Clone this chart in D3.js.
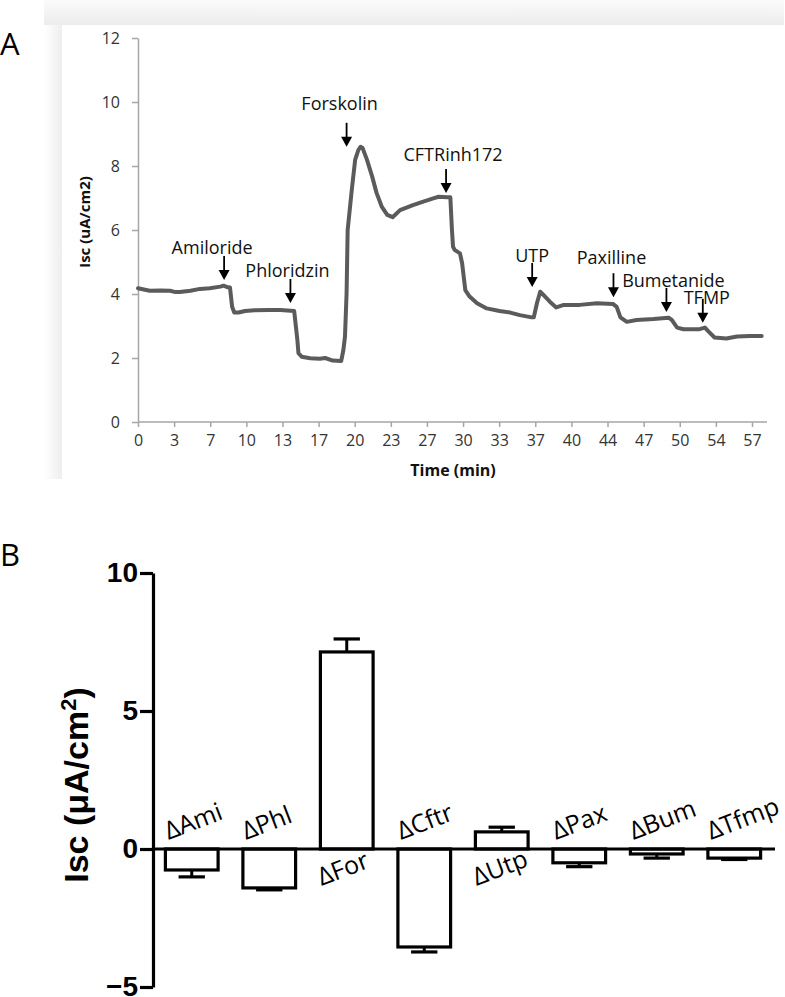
<!DOCTYPE html>
<html><head><meta charset="utf-8">
<script src="https://cdn.jsdelivr.net/npm/d3@7"></script>
<style>
html,body{margin:0;padding:0;background:#fff;}
svg{display:block;}
</style></head>
<body>
<svg id="chart" width="785" height="997"></svg>
<script>
// ---------- Panel A data ----------
const timeTickLabels = [0,3,7,10,13,17,20,23,27,30,33,37,40,44,47,50,54,57];
const yTicksA = [0,2,4,6,8,10,12];
const traceTime = [0,1.1,2.1,3.0,3.5,3.9,4.9,5.8,6.7,7.7,8.0,8.4,8.6,8.8,9.0,9.4,10.0,10.9,12.3,13.3,14.6,14.9,15.0,15.3,16.1,17.0,17.5,18.2,19.0,19.2,19.35,19.5,19.6,20.0,20.3,20.6,20.8,21.0,21.4,21.9,22.3,22.8,23.3,23.8,24.5,25.7,26.6,27.6,28.1,28.9,29.2,29.35,29.45,29.6,30.1,30.3,30.6,31.0,31.7,32.6,33.8,34.8,35.7,36.8,37.0,37.3,37.6,37.9,38.5,39.1,39.8,41.3,42.9,44.4,44.75,45.1,45.7,46.6,48.2,49.6,49.9,50.4,51.0,52.5,53.0,53.3,53.9,55.0,56.0,57.2,58.3];
const traceIsc  = [4.18,4.10,4.11,4.10,4.06,4.06,4.10,4.16,4.18,4.23,4.26,4.21,4.20,3.60,3.42,3.42,3.47,3.49,3.50,3.50,3.47,2.56,2.15,2.04,1.99,1.98,2.00,1.92,1.91,2.25,2.67,4.03,6.00,7.30,8.19,8.50,8.60,8.56,8.20,7.66,7.16,6.72,6.47,6.40,6.62,6.78,6.88,6.99,7.04,7.02,7.02,6.00,5.48,5.38,5.27,4.96,4.12,3.92,3.71,3.55,3.47,3.42,3.34,3.27,3.27,3.72,4.07,3.97,3.76,3.58,3.66,3.66,3.71,3.69,3.60,3.27,3.13,3.19,3.22,3.26,3.19,2.95,2.90,2.90,2.95,2.84,2.64,2.61,2.67,2.69,2.69];
const drugNames = ["Amiloride","Phloridzin","Forskolin","CFTRinh172","UTP","Paxilline","Bumetanide","TFMP"];
const drugTime  = [8.05,14.25,19.5,28.8,36.85,44.45,49.4,52.8];
const drugIsc   = [4.44,3.72,8.6,7.16,4.22,3.9,3.44,3.1];
// label placement (layout, px)
const drugLabelDx = [-12,-3,-7,7,0,-2,7,4];
const drugLabelDy = [-33,-33,-44,-39,-32,-40,-32,-26];

// ---------- Panel B data ----------
const barCategories = ["ΔAmi","ΔPhl","ΔFor","ΔCftr","ΔUtp","ΔPax","ΔBum","ΔTfmp"];
const barMeans  = [-0.76,-1.41,7.14,-3.55,0.62,-0.50,-0.18,-0.33];
const barErrors = [0.25,0.07,0.47,0.18,0.17,0.14,0.15,0.05];
const yTicksB = [-5,0,5,10];

const svg = d3.select("#chart");

// ---------- Panel A frame / shadow ----------
const defs = svg.append("defs");
const gTop = defs.append("linearGradient").attr("id","gTop").attr("x1",0).attr("y1",0).attr("x2",0).attr("y2",1);
gTop.append("stop").attr("offset","0%").attr("stop-color","#fbfbfb");
gTop.append("stop").attr("offset","100%").attr("stop-color","#ececec");
const gLeft = defs.append("linearGradient").attr("id","gLeft").attr("x1",0).attr("y1",0).attr("x2",1).attr("y2",0);
gLeft.append("stop").attr("offset","0%").attr("stop-color","#ffffff");
gLeft.append("stop").attr("offset","100%").attr("stop-color","#eeeeee");
svg.append("rect").attr("x",44).attr("y",0).attr("width",740).attr("height",25).attr("fill","url(#gTop)");
svg.append("rect").attr("x",44).attr("y",25).attr("width",18).attr("height",454).attr("fill","url(#gLeft)");
svg.append("rect").attr("x",62).attr("y",25).attr("width",723).attr("height",454).attr("fill","#fff");

// panel letters
svg.append("text").attr("x",0).attr("y",55).text("A")
  .style("font-family","'Open Sans',sans-serif").style("font-size","31px").attr("fill","#000");
svg.append("text").attr("x",0).attr("y",566).text("B")
  .style("font-family","'Open Sans',sans-serif").style("font-size","31px").attr("fill","#000");

// ---------- Panel A ----------
const xA = d3.scaleLinear().domain([0,57.4]).range([138,752]);
const xTickA = d3.scalePoint().domain(timeTickLabels).range([138,752]);
const yA = d3.scaleLinear().domain([0,12]).range([422,38]);
const axisColor = "#a6a6a6";
const fontA = "'Open Sans',sans-serif";

const gyA = svg.append("g").attr("transform","translate(138,0)")
  .call(d3.axisLeft(yA).tickValues(yTicksA).tickSize(6).tickSizeOuter(0).tickPadding(12));
gyA.select(".domain").attr("stroke",axisColor).attr("stroke-width",1.5);
gyA.selectAll(".tick line").attr("stroke",axisColor).attr("stroke-width",1.5);
gyA.selectAll(".tick text").style("font-family",fontA).style("font-size","16px").attr("fill","#333");

const gxA = svg.append("g").attr("transform","translate(0,422)")
  .call(d3.axisBottom(xTickA).tickSize(5).tickSizeOuter(0).tickPadding(8));
gxA.select(".domain").remove();
gxA.append("line").attr("x1",138).attr("x2",767).attr("y1",0).attr("y2",0)
  .attr("stroke",axisColor).attr("stroke-width",1.5);
gxA.selectAll(".tick line").attr("stroke",axisColor).attr("stroke-width",1.5);
gxA.selectAll(".tick text").style("font-family",fontA).style("font-size","16px").attr("fill","#333");

svg.append("text").attr("x",453).attr("y",476).attr("text-anchor","middle")
  .style("font-family",fontA).style("font-size","16px").style("font-weight","bold").attr("fill","#111")
  .text("Time (min)");
svg.append("text").attr("transform","translate(90,222) rotate(-90)").attr("text-anchor","middle")
  .style("font-family",fontA).style("font-size","15px").style("font-weight","bold").attr("fill","#111")
  .text("Isc (uA/cm2)");

const line = d3.line().x((d,i)=>xA(traceTime[i])).y((d,i)=>yA(traceIsc[i]));
svg.append("path").datum(traceIsc).attr("d",line)
  .attr("fill","none").attr("stroke","#5b5b5b").attr("stroke-width",4)
  .attr("stroke-linejoin","round").attr("stroke-linecap","round");

const ann = svg.append("g");
drugNames.forEach((name,i)=>{
  const x = xA(drugTime[i]), y = yA(drugIsc[i]);
  ann.append("line").attr("x1",x).attr("x2",x).attr("y1",y-24).attr("y2",y-8)
    .attr("stroke","#000").attr("stroke-width",1.8);
  ann.append("path").attr("d",`M${x-5.5},${y-10}L${x+5.5},${y-10}L${x},${y}Z`).attr("fill","#000");
  ann.append("text").attr("x",x+drugLabelDx[i]).attr("y",y+drugLabelDy[i])
    .attr("text-anchor","middle").attr("dominant-baseline","central")
    .style("font-family",fontA).style("font-size","18px").attr("fill","#111").text(name);
});

// ---------- Panel B ----------
const xB = d3.scaleBand().domain(barCategories).range([153,773]).paddingInner(0.32).paddingOuter(0.16);
const yB = d3.scaleLinear().domain([-5,10]).range([987,573]);
const fontB = "'Liberation Sans',Arial,sans-serif";

const gyB = svg.append("g").attr("transform","translate(153,0)")
  .call(d3.axisLeft(yB).tickValues(yTicksB).tickSize(13).tickSizeOuter(0).tickPadding(2));
gyB.select(".domain").attr("stroke","#000").attr("stroke-width",3.2);
gyB.selectAll(".tick line").attr("stroke","#000").attr("stroke-width",3.2);
gyB.selectAll(".tick text").style("font-family",fontB).style("font-size","28px").style("font-weight","bold").attr("fill","#000");

const yTitle = svg.append("text").attr("transform","translate(88,785) rotate(-90)").attr("text-anchor","middle")
  .style("font-family",fontB).style("font-size","34px").style("font-weight","bold").attr("fill","#000");
yTitle.append("tspan").text("Isc (μA/cm");
yTitle.append("tspan").attr("baseline-shift","super").style("font-size","22px").text("2");
yTitle.append("tspan").text(")");

const bars = svg.append("g");
barCategories.forEach((c,i)=>{
  const v = barMeans[i], e = barErrors[i];
  const x0 = xB(c), w = xB.bandwidth(), xc = x0 + w/2;
  const yTop = yB(Math.max(0,v)), yBot = yB(Math.min(0,v));
  const yEnd = yB(v + Math.sign(v)*e);
  bars.append("line").attr("x1",xc).attr("x2",xc).attr("y1",yB(v)).attr("y2",yEnd)
    .attr("stroke","#000").attr("stroke-width",3);
  bars.append("line").attr("x1",xc-w/4).attr("x2",xc+w/4).attr("y1",yEnd).attr("y2",yEnd)
    .attr("stroke","#000").attr("stroke-width",3.2);
  bars.append("rect").attr("x",x0).attr("y",yTop).attr("width",w).attr("height",Math.max(0.1,yBot-yTop))
    .attr("fill","#fff").attr("stroke","#000").attr("stroke-width",3.2);
  const below = v > 0;
  const lx = x0 + (below ? 1 : 3), ly = below ? yB(0)+37 : yB(0)-9;
  bars.append("text").attr("transform",`translate(${lx},${ly}) rotate(-21)`)
    .style("font-family",fontA).style("font-size","25px").attr("fill","#000").text(c);
});
svg.append("line").attr("x1",153).attr("x2",775).attr("y1",yB(0)).attr("y2",yB(0))
  .attr("stroke","#000").attr("stroke-width",3.2);
</script>
</body></html>
